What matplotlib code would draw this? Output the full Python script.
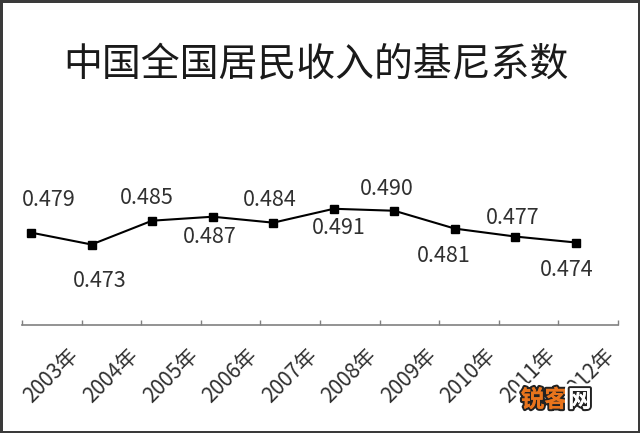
import numpy as np
import matplotlib
matplotlib.use('Agg')
import matplotlib.pyplot as plt
import matplotlib.patheffects as pe

plt.rcParams['font.family'] = ['Noto Sans CJK SC', 'DejaVu Sans']

# 数据
title = '中国全国居民收入的基尼系数'
years = [2003, 2004, 2005, 2006, 2007, 2008, 2009, 2010, 2011, 2012]
gini = [0.479, 0.473, 0.485, 0.487, 0.484, 0.491, 0.490, 0.481, 0.477, 0.474]

# 数据标签偏移 (像素, 向上为正) —— 原图里是手动摆放的
label_offsets = [(18, 27), (8, -42), (-5, 17), (-3, -26), (-3, 17),
                 (5, -25), (-8, 16), (-11, -33), (-3, 13), (-9, -33)]

W, H = 640, 433
fig = plt.figure(figsize=(W / 100, H / 100), dpi=100)
fig.patch.set_edgecolor('#3a3a3a')
fig.patch.set_linewidth(2.5)

# 折线所在坐标系
ax = fig.add_axes([22.3 / W, (H - 325) / H, 595.4 / W, 215 / H])
ax.set_xlim(-0.1437, 9.688)
ax.set_ylim(0.43245, 0.54076)
x = np.arange(len(years))
ax.plot(x, gini, color='black', lw=1.5, marker='s', ms=5.5, zorder=3)
for s in ax.spines.values():
    s.set_visible(False)
ax.set_xticks([])
ax.set_yticks([])
ax.patch.set_visible(False)

for i, v in enumerate(gini):
    dx, dy = label_offsets[i]
    ax.annotate(f'{v:.3f}', xy=(i, v), xytext=(dx, dy), textcoords='offset pixels',
                ha='center', va='baseline', fontsize=15.5, color='#303030')

# 横轴 (刻度在类别之间)
ax2 = ax.twiny()
ax2.set_xlim(0, 10)
ax2.xaxis.set_ticks_position('bottom')
for name, s in ax2.spines.items():
    s.set_visible(name == 'bottom')
ax2.spines['bottom'].set_color('#808080')
ax2.spines['bottom'].set_linewidth(1.2)
ax2.set_xticks(range(11))
ax2.set_xticklabels([])
ax2.tick_params(axis='x', direction='in', length=3.5, width=1, color='#808080')

for i, yr in enumerate(years):
    ax2.annotate(f'{yr}年', xy=(i + 0.76, 0), xycoords=('data', 'axes fraction'),
                 xytext=(0, -19), textcoords='offset pixels', rotation=45,
                 rotation_mode='anchor', ha='right', va='top',
                 fontsize=15, color='#303030')

fig.text(316 / W, 1 - 64 / H, title, ha='center', va='center', fontsize=28, color='#1a1a1a')

# 水印
halo = [pe.withStroke(linewidth=7, foreground='white'),
        pe.withStroke(linewidth=3, foreground='#222222'), pe.Normal()]
fig.text(568 / W, 1 - 400 / H, '锐客', ha='right', va='center', fontsize=17,
         fontweight='bold', color='#e8741c', path_effects=halo)
fig.text(568 / W, 1 - 400 / H, '网', ha='left', va='center', fontsize=17,
         fontweight='bold', color='white', path_effects=halo)

fig.savefig('out.png', dpi=100)
